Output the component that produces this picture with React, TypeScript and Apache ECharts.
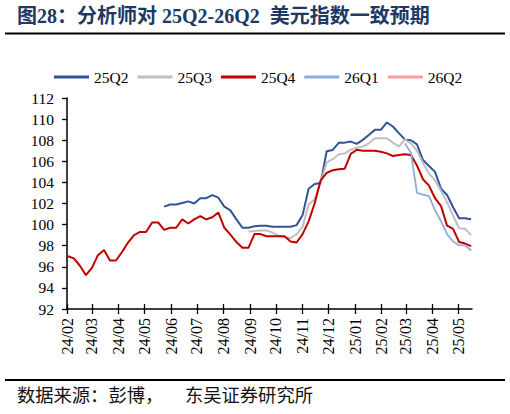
import React, { useEffect, useRef } from "react";
import * as echarts from "echarts";

// Weekly observation dates start (Fridays) and count
const startDate = "2024-02-02";
const weekCount = 68;

// Month tick labels on the x axis
const monthLabels = [
  "24/02", "24/03", "24/04", "24/05", "24/06", "24/07", "24/08", "24/09",
  "24/10", "24/11", "24/12", "25/01", "25/02", "25/03", "25/04", "25/05",
];

const seriesNames = ["25Q2", "25Q3", "25Q4", "26Q1", "26Q2"];
const seriesColors = ["#2F5597", "#BFBFBF", "#C00000", "#8FAADC", "#FF9B9B"];

const s25Q2: (number | null)[] = [
  null, null, null, null, null, null, null, null, null, null,
  null, null, null, null, null, null,
  101.7, 101.9, 101.9, 102.05, 102.2, 102.0, 102.5, 102.5, 102.8, 102.55,
  101.7, 101.35, 100.5, 99.7, 99.7, 99.85, 99.9, 99.9, 99.8, 99.8,
  99.8, 99.8, 99.95, 100.9, 103.4, 103.85, 103.95, 106.95, 107.08, 107.75,
  107.77, 107.87, 107.65, 108.03, 108.5, 108.98, 108.98, 109.68, 109.3, 108.67,
  108.05, 108.0, 107.6, 106.12, 105.55, 105.0, 103.4, 102.8, 101.65, 100.6,
  100.6, 100.5,
];

const s25Q3: (number | null)[] = [
  null, null, null, null, null, null, null, null, null, null,
  null, null, null, null, null, null, null, null, null, null,
  null, null, null, null, null, null, null, null, null, null,
  99.35, 99.4, 99.45, 99.45, 99.25, 98.95, 98.8, 98.73, 99.08, 99.8,
  101.9, 102.4, 104.0, 105.9, 106.2, 106.65, 106.75, 107.1, 107.3, 107.39,
  107.71, 108.19, 108.19, 108.19, 107.77, 107.4, 108.05, 107.7, 107.0, 105.85,
  104.85, 104.2, 103.2, 102.1, 100.85, 99.65, 99.6, 99.0,
];

const s25Q4: (number | null)[] = [
  97.0, 96.8, 96.1, 95.2, 95.9, 97.1, 97.6, 96.6, 96.6, 97.4,
  98.3, 99.0, 99.3, 99.3, 100.2, 100.2, 99.5, 99.7, 99.7, 100.5,
  100.1, 100.5, 100.8, 100.5, 100.7, 101.15, 99.7, 99.05, 98.35, 97.8,
  97.8, 99.1, 99.1, 98.9, 98.9, 98.9, 98.9, 98.4, 98.3, 99.1,
  100.3, 102.0, 104.2, 104.9, 105.15, 105.25, 105.3, 106.7, 107.1, 107.0,
  107.0, 107.0, 106.9, 106.75, 106.5, 106.6, 106.67, 106.6, 105.6, 104.3,
  103.7, 102.5, 101.75, 99.9, 99.6, 98.35, 98.2, 97.96,
];

const s26Q1: (number | null)[] = [
  null, null, null, null, null, null, null, null, null, null,
  null, null, null, null, null, null, null, null, null, null,
  null, null, null, null, null, null, null, null, null, null,
  null, null, null, null, null, null, null, null, null, null,
  null, null, null, null, null, null, null, null, null, null,
  null, null, null, null, null, null,
  107.7, 106.8, 103.0, 102.85, 102.7, 101.36, 100.3, 99.1, 98.4, 98.05,
  98.03, 97.55,
];

const s26Q2: (number | null)[] = [];

const yMin = 92;
const yMax = 112;
const yStep = 2;

const DAY = 86400000;

function parseDate(s: string): number {
  const [y, m, d] = s.split("-").map(Number);
  return Date.UTC(y, m - 1, d);
}

function monthLabelToTs(l: string): number {
  const [yy, mm] = l.split("/").map(Number);
  return Date.UTC(2000 + yy, mm - 1, 1);
}

function fmt(v: number): string {
  const d = new Date(v);
  const yy = String(d.getUTCFullYear() % 100).padStart(2, "0");
  const mm = String(d.getUTCMonth() + 1).padStart(2, "0");
  return yy + "/" + mm;
}

export default function App() {
  const ref = useRef<HTMLDivElement>(null);

  useEffect(() => {
    if (!ref.current) return;
    const chart = echarts.init(ref.current, null, { renderer: "svg" });

    const t0 = parseDate(startDate);
    const dates: number[] = [];
    for (let i = 0; i < weekCount; i++) dates.push(t0 + i * 7 * DAY);
    const tickTs = monthLabels.map(monthLabelToTs);
    const xMin = monthLabelToTs(monthLabels[0]);
    const xMax = dates[dates.length - 1] + DAY;

    const all = [s25Q2, s25Q3, s25Q4, s26Q1, s26Q2];
    const serif = "'Liberation Serif', 'Times New Roman', serif";

    const option: any = {
      animation: false,
      backgroundColor: "#ffffff",
      legend: {
        data: seriesNames,
        left: 49,
        top: 64,
        icon: "rect",
        itemWidth: 35,
        itemHeight: 3,
        itemGap: 9,
        textStyle: { fontFamily: serif, fontSize: 15.5, color: "#000", width: 37 },
      },
      grid: { left: 67, right: 38, top: 98, bottom: 105, containLabel: false },
      xAxis: [
        {
          type: "value",
          min: xMin,
          max: xMax,
          position: "bottom",
          axisLine: { show: true, onZero: false, lineStyle: { color: "#000", width: 1.5 } },
          axisTick: {
            show: true,
            inside: false,
            length: 5,
            customValues: tickTs,
            lineStyle: { color: "#000", width: 1.3 },
          },
          axisLabel: {
            show: true,
            customValues: tickTs,
            rotate: 90,
            margin: 9,
            fontFamily: serif,
            fontSize: 16,
            color: "#000",
            formatter: (v: number) => fmt(v),
          },
          splitLine: { show: false },
        },
        {
          type: "value",
          min: xMin,
          max: xMax,
          position: "bottom",
          axisLine: { show: false, onZero: false },
          axisTick: {
            show: true,
            inside: true,
            length: 5,
            customValues: tickTs,
            lineStyle: { color: "#000", width: 1.3 },
          },
          axisLabel: { show: false },
          splitLine: { show: false },
        },
      ],
      yAxis: {
        type: "value",
        min: yMin,
        max: yMax,
        interval: yStep,
        axisLine: { show: true, lineStyle: { color: "#000", width: 1.5 } },
        axisTick: { show: true, inside: false, length: 5, lineStyle: { color: "#000", width: 1.3 } },
        axisLabel: { margin: 13, fontFamily: serif, fontSize: 15.5, color: "#000" },
        splitLine: { show: false },
      },
      series: seriesNames.map((name, k) => ({
        name,
        type: "line",
        xAxisIndex: 0,
        showSymbol: false,
        symbol: "none",
        connectNulls: false,
        color: seriesColors[k],
        lineStyle: { color: seriesColors[k], width: k === 3 ? 1.8 : 2 },
        data: dates.map((d, i) => [d, all[k][i] ?? null]).filter((p) => p[1] !== null),
      })),
      graphic: [
        {
          type: "text",
          left: 17,
          top: 6,
          style: {
            text: "图28：分析师对 25Q2-26Q2  美元指数一致预期",
            fontFamily: "'Liberation Serif', 'Noto Sans CJK SC', serif",
            fontWeight: "bold",
            fontSize: 20,
            fill: "#203864",
          },
        },
        {
          type: "line",
          shape: { x1: 5, y1: 33.5, x2: 505, y2: 33.5 },
          style: { stroke: "#000", lineWidth: 2 },
        },
        {
          type: "line",
          shape: { x1: 5, y1: 380, x2: 505, y2: 380 },
          style: { stroke: "#000", lineWidth: 2 },
        },
        {
          type: "text",
          left: 17,
          top: 385,
          style: {
            text: "数据来源：彭博，",
            fontFamily: "'Noto Sans CJK SC', sans-serif",
            fontSize: 18.3,
            fill: "#111",
          },
        },
        {
          type: "text",
          left: 185,
          top: 385,
          style: {
            text: "东吴证券研究所",
            fontFamily: "'Noto Sans CJK SC', sans-serif",
            fontSize: 18.3,
            fill: "#111",
          },
        },
      ],
    };

    chart.setOption(option);
    return () => chart.dispose();
  }, []);

  return (
    <div
      ref={ref}
      style={{ position: "fixed", left: 0, top: 0, width: 510, height: 414, background: "#fff" }}
    />
  );
}
